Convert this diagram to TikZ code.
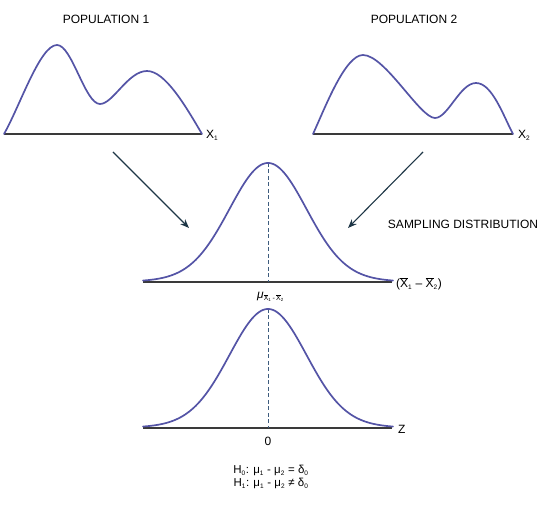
\documentclass[tikz,border=0pt]{standalone}
\usepackage{fontspec}
\setmainfont{Liberation Sans}
\usetikzlibrary{arrows.meta}
\definecolor{curveblue}{HTML}{5454A6}
\definecolor{axisgray}{HTML}{3A3A3A}
\definecolor{arrownavy}{HTML}{1E3646}
\definecolor{dashblue}{HTML}{3E5C7E}
\newcommand\sbs[1]{\textsubscript{\fontsize{6.5}{6.5}\selectfont #1}}
\newcommand\tinysbs[1]{\textsubscript{\fontsize{4.5}{4.5}\selectfont #1}}
\newcommand\xbar{$\overline{\mbox{X}}$}
\tikzset{
  curve/.style={draw=curveblue, line width=1.7pt, line join=round, line cap=round},
  axisline/.style={draw=axisgray, line width=1.4pt},
  feed/.style={draw=arrownavy, line width=1.1pt, -{Stealth[length=9pt,width=7pt]}},
  meanline/.style={draw=dashblue, line width=0.9pt, dash pattern=on 4pt off 2.5pt},
  lbl/.style={font=\fontsize{12}{14}\selectfont, inner sep=0pt}
}
\begin{document}
\begin{tikzpicture}[x=1pt,y=-1pt]
\useasboundingbox (0,0) rectangle (550,505);
% Population 1
\node[lbl] (p1t) at (106,19) {POPULATION 1};
\coordinate (p1a) at (4,134);
\coordinate (p1b) at (202,134);
\draw[axisline] (p1a) -- (p1b);
\draw[curve] (p1a) .. controls (20,106) and (40,45) .. (57,45)
  .. controls (72,45) and (85,104) .. (100,104)
  .. controls (113,104) and (128,71) .. (147,71)
  .. controls (165,71) and (185,105) .. (p1b);
\node[lbl, anchor=west] (x1) at (206,135) {X\sbs{1}};
% Population 2
\node[lbl] (p2t) at (414,19) {POPULATION 2};
\coordinate (p2a) at (313,134);
\coordinate (p2b) at (513,134);
\draw[axisline] (p2a) -- (p2b);
\draw[curve] (p2a) .. controls (325,108) and (345,55) .. (363,55)
  .. controls (385,55) and (420,118) .. (435,118)
  .. controls (448,118) and (460,83) .. (476,83)
  .. controls (492,83) and (503,115) .. (p2b);
\node[lbl, anchor=west] (x2) at (518,135) {X\sbs{2}};
% Arrows
\coordinate (a1s) at (113,152);
\coordinate (a1e) at (189,228);
\coordinate (a2s) at (423,152);
\coordinate (a2e) at (348,228);
\draw[feed] (a1s) -- (a1e);
\draw[feed] (a2s) -- (a2e);
% Sampling distribution
\node[lbl] (sd) at (463,224) {SAMPLING DISTRIBUTION};
\coordinate (s1a) at (143,282);
\coordinate (s1b) at (392,282);
\coordinate (s1top) at (268,163);
\draw[axisline, line width=1.2pt] (s1a) -- (s1b);
\draw[meanline] (s1top) -- (268,282);
\draw[curve] plot[domain=-125:125, samples=120, smooth] ({268+\x},{282-119*(0.93*exp(-(\x*\x)/2888)+0.07*exp(-(\x*\x)/7200))});
\node[lbl, anchor=west] (dlab) at (396,284) {(\xbar\sbs{1} – \xbar\sbs{2})};
\node[lbl, anchor=west] (mu) at (257,297) {\textit{μ}\raisebox{-2.5pt}{\fontsize{7}{7}\selectfont\xbar\tinysbs{1}\,-\,\xbar\tinysbs{2}}};
% Z distribution
\coordinate (s2a) at (143,428);
\coordinate (s2b) at (392,428);
\coordinate (s2top) at (268,309);
\draw[axisline, line width=1.2pt] (s2a) -- (s2b);
\draw[meanline] (s2top) -- (268,428);
\draw[curve] plot[domain=-125:125, samples=120, smooth] ({268+\x},{428-119*(0.93*exp(-(\x*\x)/2888)+0.07*exp(-(\x*\x)/7200))});
\node[lbl, anchor=west] (zl) at (398,429) {Z};
\node[lbl] (zero) at (268,441) {0};
% Hypotheses
\node[lbl, align=center, font=\fontsize{11.5}{13}\selectfont] (hyp) at (271,477) {H\sbs{0}: μ\sbs{1} - μ\sbs{2} = δ\sbs{0}\\H\sbs{1}: μ\sbs{1} - μ\sbs{2} ≠ δ\sbs{0}};
\end{tikzpicture}
\end{document}
